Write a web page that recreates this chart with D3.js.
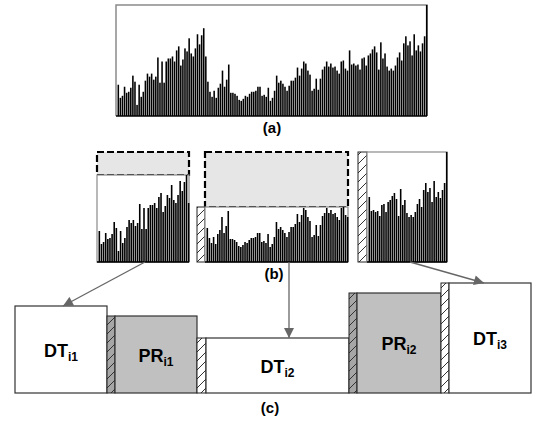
<!DOCTYPE html>
<html>
<head>
<meta charset="utf-8">
<script src="https://cdn.jsdelivr.net/npm/d3@7"></script>
<style>
  body { margin: 0; background: #fff; }
  svg { display: block; font-family: Arial, "Liberation Sans", sans-serif; }
</style>
</head>
<body>
<div id="chart"></div>
<script>
// bar heights of the whole trace (a), left to right
const barValues = [
    31, 18, 20, 29, 23, 24, 28, 40, 34, 11, 31, 19, 24, 35, 42, 39, 42, 36, 39, 58,
    33, 54, 33, 54, 57, 57, 59, 54, 65, 69, 50, 56, 67, 64, 77, 62, 59, 67, 81, 71,
    80, 87, 59,
    34, 24, 19, 25, 18, 28, 32, 45, 29, 36, 51, 23, 23, 22, 20, 16, 15, 17, 20, 19,
    22, 24, 24, 25, 29, 29, 20, 21, 19, 28, 15, 18, 25, 40, 33, 35, 32, 29, 25, 30,
    35, 35, 38, 48, 40, 47, 54, 52, 45, 41, 25, 27, 37, 26, 37, 46, 49, 54, 49, 52,
    48, 49, 45, 42, 54, 55, 47, 45,
    65, 51, 52, 50, 51, 46, 57, 58, 50, 60, 62, 66, 69, 63, 46, 73, 57, 62, 49, 45,
    47, 45, 50, 58, 63, 55, 72, 79, 70, 74, 60, 81, 65, 70, 64, 72, 79, 110
];
// where the trace is cut for the three pieces in (b)
const sliceEnds = [43, 111, 149];
const dtNames = ["i1", "i2", "i3"];
const prNames = ["i1", "i2"];
const prValues = [77, 100];
const panelLabels = ["(a)", "(b)", "(c)"];

const width = 534, height = 421;
const MAXV = 110;

const svg = d3.select("#chart").append("svg")
    .attr("width", width)
    .attr("height", height);

// hatch patterns for the small strips
const defs = svg.append("defs");
function hatch(id, bg) {
    let p = defs.append("pattern")
        .attr("id", id)
        .attr("patternUnits", "userSpaceOnUse")
        .attr("width", 9).attr("height", 9);
    p.append("rect").attr("width", 9).attr("height", 9).attr("fill", bg);
    p.append("path")
        .attr("d", "M0,9 L9,0 M-1,1 L1,-1 M8,10 L10,8")
        .attr("stroke", "#333").attr("stroke-width", 1);
}
hatch("hatchLight", "#fff");
hatch("hatchDark", "#a6a6a6");

defs.append("marker")
    .attr("id", "arrow")
    .attr("viewBox", "0 0 10 10")
    .attr("refX", 10).attr("refY", 5)
    .attr("markerWidth", 12).attr("markerHeight", 10)
    .attr("markerUnits", "userSpaceOnUse")
    .attr("orient", "auto")
    .append("path")
    .attr("d", "M0,0 L10,5 L0,10 Z")
    .attr("fill", "#666");

function drawBars(g, values, x, y) {
    g.selectAll("rect.bar")
        .data(values)
        .enter()
        .append("rect")
        .attr("class", "bar")
        .attr("x", (d, i) => x(i))
        .attr("width", x.bandwidth())
        .attr("y", d => y(d))
        .attr("height", d => y(0) - y(d))
        .attr("fill", "#000");
}

// ---------- (a) whole trace ----------
const A = {left: 116, right: 427, top: 5, bottom: 116};
const xA = d3.scaleBand()
    .domain(d3.range(barValues.length))
    .range([A.left + 1, A.right + 1])
    .padding(0.25);
const yA = d3.scaleLinear().domain([0, MAXV]).range([A.bottom, A.top]);

const gA = svg.append("g");
gA.append("path")
    .attr("d", `M${A.left},${A.bottom} V${A.top} H${A.right} V${A.bottom}`)
    .attr("fill", "none").attr("stroke", "#8a8a8a").attr("stroke-width", 1.5);
drawBars(gA, barValues, xA, yA);
gA.append("line")
    .attr("x1", A.left).attr("x2", A.right)
    .attr("y1", A.bottom).attr("y2", A.bottom)
    .attr("stroke", "#000").attr("stroke-width", 1.3);

// ---------- (b) pieces ----------
const B = {top: 152, bottom: 262};
const bPanels = [
    {x0: 97, x1: 189, strip: null},
    {x0: 205, x1: 348, strip: 197},
    {x0: 367, x1: 447, strip: 358}
];
const yB = d3.scaleLinear().domain([0, MAXV]).range([B.bottom, B.top]);

const slices = sliceEnds.map((e, i) => barValues.slice(i ? sliceEnds[i - 1] : 0, e));

slices.forEach(function (vals, i) {
    let p = bPanels[i];
    let g = svg.append("g");
    let top = yB(d3.max(vals));

    if (top > B.top + 1) {
        g.append("rect")
            .attr("x", p.x0).attr("y", B.top)
            .attr("width", p.x1 - p.x0).attr("height", top - B.top)
            .attr("fill", "#e6e6e6")
            .attr("stroke", "#000").attr("stroke-width", 2.2)
            .attr("stroke-dasharray", "7,3");
    }
    if (p.strip !== null) {
        g.append("rect")
            .attr("x", p.strip).attr("y", top)
            .attr("width", p.x0 - p.strip).attr("height", B.bottom - top)
            .attr("fill", "url(#hatchLight)")
            .attr("stroke", "#222").attr("stroke-width", 1);
    }
    g.append("rect")
        .attr("x", p.x0).attr("y", top)
        .attr("width", p.x1 - p.x0).attr("height", B.bottom - top)
        .attr("fill", "#fff")
        .attr("stroke", "#8a8a8a").attr("stroke-width", 1.2);

    let x = d3.scaleBand()
        .domain(d3.range(vals.length))
        .range([p.x0 + 1, p.x1 + 1])
        .padding(0.25);
    drawBars(g, vals, x, yB);
    g.append("line")
        .attr("x1", p.x0).attr("x2", p.x1)
        .attr("y1", B.bottom).attr("y2", B.bottom)
        .attr("stroke", "#000").attr("stroke-width", 1.3);
});

// ---------- (c) schedule ----------
const C = {bottom: 393, top: 283};
const yC = d3.scaleLinear().domain([0, MAXV]).range([C.bottom, C.top]);
const edges = [15, 107, 115, 197, 206, 349, 357, 441, 449, 531];

let blocks = [];
dtNames.forEach(function (name, i) {
    blocks.push({type: "DT", sub: name, value: d3.max(slices[i])});
    if (i < prNames.length) {
        blocks.push({type: "PR", sub: prNames[i], value: prValues[i]});
    }
});

const gC = svg.append("g");
blocks.forEach(function (b, i) {
    let k = i * 2;
    let bx0 = i === 0 ? edges[0] : edges[k];
    let bx1 = edges[k + 1];
    let top = yC(b.value);

    if (i > 0) {
        gC.append("rect")
            .attr("x", edges[k - 1]).attr("y", top)
            .attr("width", edges[k] - edges[k - 1]).attr("height", C.bottom - top)
            .attr("fill", b.type === "PR" ? "url(#hatchDark)" : "url(#hatchLight)")
            .attr("stroke", "#222").attr("stroke-width", 1);
    }
    gC.append("rect")
        .attr("x", bx0).attr("y", top)
        .attr("width", bx1 - bx0).attr("height", C.bottom - top)
        .attr("fill", b.type === "PR" ? "#c0c0c0" : "#fff")
        .attr("stroke", "#333").attr("stroke-width", 1.2);

    let t = gC.append("text")
        .attr("x", (bx0 + bx1) / 2)
        .attr("y", (top + C.bottom) / 2 + 7)
        .attr("text-anchor", "middle")
        .attr("font-weight", "bold")
        .attr("font-size", "18px")
        .attr("fill", "#000");
    t.append("tspan").text(b.type);
    t.append("tspan").attr("font-size", "12px").attr("dy", 4).text(b.sub);
});

// ---------- arrows from (b) to (c) ----------
const dtCenters = [63, 289, 484];
const arrowStarts = [145, 289, 410];
dtNames.forEach(function (n, i) {
    svg.append("line")
        .attr("x1", arrowStarts[i]).attr("y1", B.bottom)
        .attr("x2", dtCenters[i]).attr("y2", yC(d3.max(slices[i])))
        .attr("stroke", "#666").attr("stroke-width", 1.3)
        .attr("marker-end", "url(#arrow)");
});

// ---------- panel labels ----------
const labelPos = [[272, 133], [274, 279], [270, 413]];
panelLabels.forEach(function (l, i) {
    svg.append("text")
        .attr("x", labelPos[i][0]).attr("y", labelPos[i][1])
        .attr("text-anchor", "middle")
        .attr("font-weight", "bold")
        .attr("font-size", "15px")
        .text(l);
});
</script>
</body>
</html>
